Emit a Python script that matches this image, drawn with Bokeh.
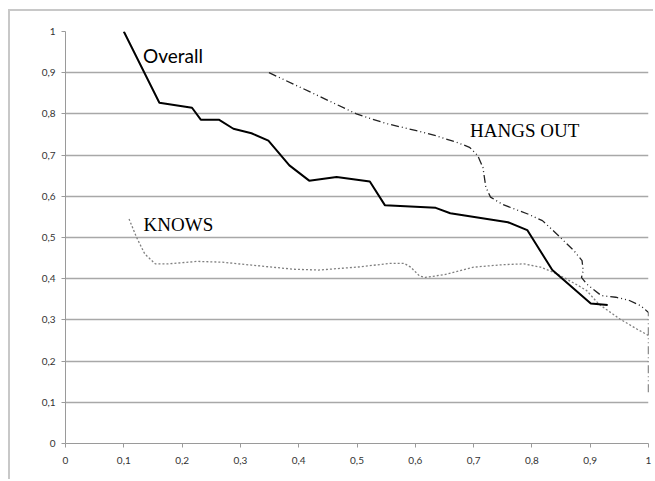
from bokeh.plotting import figure
from bokeh.models import Range1d, FixedTicker, Label
from bokeh.embed import file_html
from bokeh.resources import INLINE

# Data
overall_x = [0.10, 0.161, 0.217, 0.232, 0.263, 0.288, 0.319, 0.348, 0.384, 0.418,
             0.465, 0.522, 0.548, 0.635, 0.660, 0.759, 0.792, 0.835, 0.901, 0.930]
overall_y = [1.00, 0.827, 0.815, 0.786, 0.786, 0.764, 0.753, 0.735, 0.675, 0.638,
             0.647, 0.636, 0.578, 0.572, 0.559, 0.537, 0.518, 0.421, 0.340, 0.336]

hangs_x = [0.349, 0.39, 0.45, 0.499, 0.549, 0.600, 0.635, 0.671, 0.693, 0.707, 0.716,
           0.721, 0.729, 0.750, 0.793, 0.818, 0.843, 0.872, 0.886, 0.888, 0.885,
           0.894, 0.919, 0.944, 0.966, 0.987, 1.0, 1.0]
hangs_y = [0.900, 0.873, 0.833, 0.800, 0.777, 0.760, 0.747, 0.731, 0.719, 0.699, 0.670,
           0.622, 0.598, 0.580, 0.557, 0.541, 0.508, 0.468, 0.444, 0.419, 0.403,
           0.387, 0.359, 0.355, 0.348, 0.334, 0.318, 0.118]

knows_x = [0.109, 0.122, 0.136, 0.154, 0.176, 0.226, 0.269, 0.319, 0.391, 0.434,
           0.499, 0.556, 0.581, 0.592, 0.607, 0.617, 0.650, 0.700, 0.750, 0.786,
           0.815, 0.844, 0.880, 0.894, 0.915, 0.951, 0.980, 1.0]
knows_y = [0.545, 0.500, 0.460, 0.436, 0.436, 0.442, 0.440, 0.433, 0.423, 0.421,
           0.428, 0.437, 0.437, 0.428, 0.407, 0.403, 0.410, 0.428, 0.434, 0.436,
           0.428, 0.411, 0.383, 0.371, 0.338, 0.302, 0.278, 0.262]

ticks = [0.0, 0.1, 0.2, 0.3, 0.4, 0.5, 0.6, 0.7, 0.8, 0.9, 1.0]
tick_labels = ["0", "0,1", "0,2", "0,3", "0,4", "0,5", "0,6", "0,7", "0,8", "0,9", "1"]

p = figure(width=645, height=470, output_backend="svg", toolbar_location=None,
           x_range=Range1d(0, 1), y_range=Range1d(0, 1),
           min_border_left=55, min_border_right=7, min_border_top=20,
           min_border_bottom=38)
# Excel-style chart-area border (left and top edges visible in the reference)
p.styles = {"margin-left": "8px", "margin-top": "9px",
            "border-left": "2px solid #c8c8c8", "border-top": "2px solid #c8c8c8"}
p.outline_line_color = None
p.background_fill_color = "white"
p.border_fill_color = "white"

overrides = {t: l for t, l in zip(ticks, tick_labels)}
for ax in (p.xaxis[0], p.yaxis[0]):
    ax.ticker = FixedTicker(ticks=ticks)
    ax.major_label_overrides = overrides
    ax.axis_line_color = "#9a9a9a"
    ax.axis_line_width = 1
    ax.major_tick_line_color = "#9a9a9a"
    ax.major_tick_out = 4
    ax.major_tick_in = 0
    ax.minor_tick_line_color = None
    ax.major_label_text_font = "Lato"
    ax.major_label_text_font_size = "10px"
    ax.major_label_text_color = "#333333"
p.xaxis.major_label_standoff = 9
p.yaxis.major_label_standoff = 6

p.xgrid.grid_line_color = None
p.ygrid.grid_line_color = "#a8a8a8"
p.ygrid.grid_line_width = 1.6

p.line(knows_x, knows_y, line_color="#808080", line_width=1.3, line_dash="2 2")
p.line(hangs_x, hangs_y, line_color="#222222", line_width=1.3, line_dash="8 3 1 3 1 3")
p.line(overall_x, overall_y, line_color="black", line_width=2)

p.add_layout(Label(x=0.133, y=0.942, text="Overall", text_font="Lato",
                   text_font_size="19px", text_baseline="middle", text_align="left",
                   text_color="black"))
p.add_layout(Label(x=0.694, y=0.760, text="HANGS OUT", text_font="Liberation Serif",
                   text_font_size="19px", text_baseline="middle", text_align="left",
                   text_color="black"))
p.add_layout(Label(x=0.134, y=0.531, text="KNOWS", text_font="Liberation Serif",
                   text_font_size="19px", text_baseline="middle", text_align="left",
                   text_color="black"))

open("out.html", "w").write(file_html(p, INLINE))
